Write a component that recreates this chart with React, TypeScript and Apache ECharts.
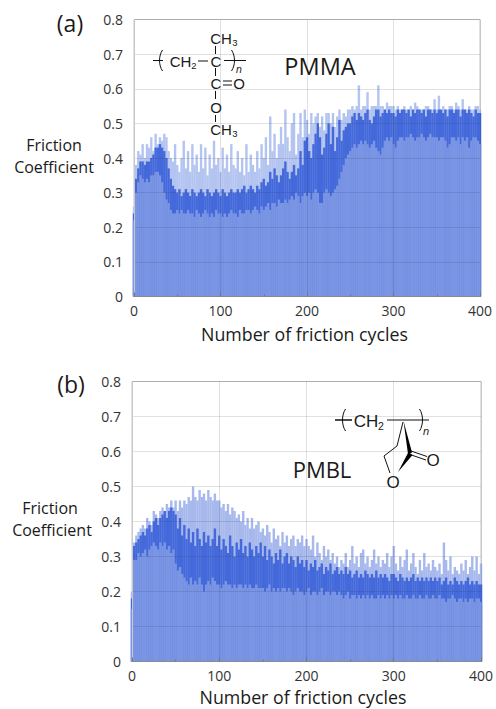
import React, { useEffect, useRef } from "react";
import * as echarts from "echarts";

const cycleStep = 2.5;
const xTicks = [0, 100, 200, 300, 400];
const yTickStep = 0.1;

// friction coefficient x 100, one value every 2.5 cycles
const pmmaLow = [
  22,30,33,35,34,33,34,33,35,35,36,36,35,33,30,28,27,25,24,24,
  25,24,25,24,24,25,24,24,23,25,24,23,24,25,24,23,24,23,25,24,
  24,23,24,23,24,25,24,24,23,25,24,24,25,25,24,25,26,25,24,26,
  25,26,27,25,27,27,26,28,27,27,28,27,28,29,28,30,29,27,29,30,
  29,30,28,30,31,30,27,27,30,31,30,29,30,31,32,34,36,38,40,41,
  42,43,44,43,44,45,44,45,44,43,44,45,43,42,41,43,45,46,45,46,
  44,43,45,46,46,45,46,46,47,46,45,46,46,47,46,45,46,47,46,46,
  46,45,46,46,45,43,44,46,46,45,46,44,46,45,46,43,45,46,46,45,
  44,
];
const pmmaHigh = [
  24,34,37,39,39,38,39,39,40,41,43,43,44,43,42,40,37,34,32,31,
  30,31,29,30,31,30,29,31,30,29,30,31,30,29,31,30,29,30,31,30,
  29,31,30,29,30,31,30,30,31,30,31,32,30,31,32,31,30,32,31,33,
  34,32,33,36,34,37,35,33,35,37,39,36,34,36,38,35,37,42,38,45,
  46,42,40,44,47,50,46,41,43,47,50,44,49,42,46,51,45,48,49,50,
  50,52,53,51,53,52,51,53,54,51,50,52,54,54,52,53,54,53,54,53,
  53,52,54,53,54,54,53,54,52,54,53,54,54,53,54,52,54,54,53,54,
  53,54,54,53,54,52,54,54,53,54,54,52,54,54,53,54,53,52,54,53,
  53,
];
const pmmaPeak = [
  26,38,42,41,44,40,44,43,46,42,47,44,46,45,47,46,42,40,39,44,
  38,36,40,45,37,42,36,44,38,41,36,44,37,43,35,41,37,45,38,40,
  36,43,37,41,36,44,38,37,42,36,40,35,44,36,41,38,36,42,37,44,
  40,46,38,52,42,47,40,44,49,44,54,46,42,50,53,41,47,53,46,54,
  51,47,53,50,52,53,49,52,48,53,53,50,53,49,52,54,51,53,52,54,
  54,55,54,55,61,54,55,55,59,54,55,55,55,61,55,55,54,56,55,55,
  55,54,55,54,54,55,54,54,55,54,56,55,54,54,54,55,55,54,54,57,
  54,58,54,55,54,54,55,55,54,56,55,54,57,54,54,55,54,54,55,55,
  54,
];
const pmblLow = [
  15,29,29,31,30,31,32,30,32,33,34,33,32,34,33,34,32,33,31,32,
  28,26,27,25,24,23,22,24,22,23,22,24,22,20,22,23,22,24,23,22,
  22,21,22,23,22,22,21,22,21,22,22,21,22,21,22,21,21,22,21,21,
  21,20,21,22,20,21,20,21,20,21,21,20,21,20,19,20,21,20,20,19,
  20,21,19,20,20,19,20,21,19,20,20,19,20,20,19,20,19,18,19,20,
  18,19,19,18,19,18,19,18,19,18,19,18,18,19,18,19,18,19,18,19,
  18,19,18,19,18,18,19,18,18,19,18,18,19,18,18,19,18,18,19,18,
  18,19,18,18,17,18,18,19,18,17,18,18,17,18,17,18,18,17,18,18,
  17,
];
const pmblHigh = [
  18,33,34,35,36,37,36,38,39,37,40,41,39,41,42,43,41,43,44,43,
  42,38,41,36,39,35,38,34,37,33,38,35,33,37,34,36,33,35,38,33,
  36,32,35,33,31,36,33,30,34,32,35,31,33,30,34,32,30,33,31,34,
  30,33,29,32,30,28,31,29,32,28,30,31,28,30,29,27,30,28,29,27,
  29,26,28,27,29,26,27,28,25,27,26,28,25,26,27,25,26,25,27,25,
  26,24,25,26,24,25,24,26,25,24,25,24,26,24,25,24,25,24,23,25,
  25,24,23,25,24,23,24,23,24,25,23,24,23,24,23,24,23,24,23,24,
  23,24,22,23,24,22,23,22,24,23,22,23,22,23,24,22,23,22,23,22,
  22,
];
const pmblPeak = [
  20,34,36,37,38,39,38,41,40,39,43,42,41,43,44,43,45,44,46,44,
  46,43,46,44,46,45,47,46,50,47,46,49,47,48,46,49,47,46,48,46,
  46,44,45,43,45,42,44,43,41,42,40,43,39,41,38,41,38,39,40,37,
  38,36,39,37,34,38,35,36,33,37,34,36,33,35,36,33,35,34,36,33,
  35,33,32,36,30,34,31,29,33,30,32,29,31,28,30,27,29,28,31,27,
  29,33,28,30,27,31,32,28,30,27,29,32,28,30,27,29,28,31,27,30,
  33,28,26,30,27,29,32,26,28,31,27,25,29,26,31,27,28,26,29,27,
  26,28,25,34,29,26,30,25,27,26,25,28,26,29,25,27,30,26,30,25,
  28,
];

const toPoints = (v: number[]) => v.map((y, i) => [i * cycleStep, y / 100]);

const uiFont = "Open Sans";
const chemFont = "Liberation Sans";
const xTitle = "Number of friction cycles";

const txt = (text: string, x: number, y: number, size: number, font = uiFont, extra: any = {}) => ({
  type: "text",
  x,
  y,
  silent: true,
  z: 20,
  style: { text, fontSize: size, fontFamily: font, fill: "#1a1a1a", align: "center", verticalAlign: "middle", ...extra },
});
const seg = (x1: number, y1: number, x2: number, y2: number, w = 1) => ({
  type: "line",
  silent: true,
  z: 20,
  shape: { x1, y1, x2, y2 },
  style: { stroke: "#111", lineWidth: w },
});
const bracket = (x: number, top: number, bottom: number, dir: number) => ({
  type: "bezierCurve",
  silent: true,
  z: 20,
  shape: {
    x1: x + 1.5 * dir, y1: top,
    x2: x + 1.5 * dir, y2: bottom,
    cpx1: x - 2.5 * dir, cpy1: top + 6,
    cpx2: x - 2.5 * dir, cpy2: bottom - 6,
  },
  style: { stroke: "#111", lineWidth: 1, fill: "none" },
});
const solid = (points: number[][]) => ({
  type: "polygon",
  silent: true,
  z: 20,
  shape: { points },
  style: { fill: "#000" },
});

const pmmaGraphic = [
  txt("(a)", 70, 23, 23),
  txt("Friction", 54, 145, 16),
  txt("Coefficient", 54, 167, 16),
  txt("PMMA", 320, 66, 23.5),
  txt(xTitle, 304.5, 334, 17.8),
  seg(153, 60.5, 163, 60.5),
  bracket(161, 50, 71, 1),
  txt("CH", 180.5, 61, 15, chemFont),
  txt("2", 194, 65, 9.5, chemFont),
  seg(198, 61, 208, 61),
  txt("C", 216, 61, 15, chemFont),
  seg(224, 60.5, 246, 60.5),
  bracket(233, 50, 71, -1),
  txt("n", 239, 69, 10.5, chemFont, { fontStyle: "italic" }),
  txt("CH", 221, 38, 15, chemFont),
  txt("3", 235, 42, 9.5, chemFont),
  seg(215.5, 46, 215.5, 54),
  seg(215.5, 68, 215.5, 76),
  txt("C", 216, 83, 15, chemFont),
  seg(223, 81, 232, 81),
  seg(223, 85, 232, 85),
  txt("O", 239, 83, 15, chemFont),
  seg(215.5, 91, 215.5, 99),
  txt("O", 216, 107, 15, chemFont),
  seg(215.5, 115, 215.5, 122),
  txt("CH", 221, 129, 15, chemFont),
  txt("3", 235, 133, 9.5, chemFont),
];

const pmblGraphic = [
  txt("(b)", 71, 384, 23),
  txt("Friction", 50, 508, 16),
  txt("Coefficient", 52, 530, 16),
  txt("PMBL", 322, 469, 22),
  txt(xTitle, 303, 697, 17.8),
  seg(335, 420, 352, 420, 1.5),
  bracket(344, 409, 431, 1),
  txt("CH", 366, 421, 17, chemFont),
  txt("2", 381, 426, 10.5, chemFont),
  seg(387, 420, 429, 420),
  bracket(421, 409, 431, -1),
  txt("n", 426, 431, 11, chemFont, { fontStyle: "italic" }),
  seg(403, 422, 397, 446),
  seg(397, 446, 384, 456),
  seg(384, 456, 390, 473),
  solid([[403.5, 421], [408, 454], [412, 452.5]]),
  solid([[408.5, 452], [412.5, 455], [398, 472]]),
  seg(411, 451, 427, 456.5),
  seg(410, 454.5, 426, 460),
  txt("O", 433, 460, 17, chemFont),
  txt("O", 393, 482, 17, chemFont),
];

const BAND = "#4469da";
const BASE = "#7a95e3";

function panel(index: number, low: number[], high: number[], peak: number[], peakColor: string) {
  const layer = (data: number[], color: string, name: string) => ({
    type: "bar",
    name,
    xAxisIndex: index,
    yAxisIndex: index,
    data: toPoints(data),
    barWidth: 2.4,
    barGap: "-100%",
    itemStyle: { color },
    silent: true,
  });
  return [layer(peak, peakColor, "peak"), layer(high, BAND, "high"), layer(low, BASE, "low")];
}

const xAxisOf = (gridIndex: number) => ({
  type: "value",
  gridIndex,
  min: xTicks[0],
  max: xTicks[xTicks.length - 1],
  interval: xTicks[1] - xTicks[0],
  z: 5,
  axisLine: { show: true, lineStyle: { color: "#8a8a8a", width: 1 } },
  axisTick: { show: true, inside: true, length: 4, lineStyle: { color: "#777" } },
  minorTick: { show: true, splitNumber: 2, length: 2, lineStyle: { color: "#777" } },
  axisLabel: { fontFamily: uiFont, fontSize: 14, color: "#333", margin: 7 },
  splitLine: { show: true, lineStyle: { color: "rgba(40,40,60,0.14)", width: 1 } },
});
const yAxisOf = (gridIndex: number) => ({
  type: "value",
  gridIndex,
  min: 0,
  max: 0.8,
  interval: yTickStep,
  z: 5,
  axisLine: { show: true, lineStyle: { color: "#c8c8c8", width: 1 } },
  axisTick: { show: false },
  axisLabel: { fontFamily: uiFont, fontSize: 14, color: "#333", margin: 11 },
  splitLine: { show: true, lineStyle: { color: "rgba(40,40,60,0.14)", width: 1 } },
});

export default function App() {
  const ref = useRef<HTMLDivElement>(null);
  useEffect(() => {
    document.body.style.margin = "0";
    const chart = echarts.init(ref.current!, undefined, { renderer: "svg" });
    chart.setOption({
      animation: false,
      backgroundColor: "#fff",
      grid: [
        { left: 134, top: 19.5, width: 346, height: 277, show: true, borderColor: "#c4c4c4", borderWidth: 1 },
        { left: 132, top: 381.5, width: 349, height: 280, show: true, borderColor: "#c4c4c4", borderWidth: 1 },
      ],
      xAxis: [xAxisOf(0), xAxisOf(1)],
      yAxis: [yAxisOf(0), yAxisOf(1)],
      series: [
        ...panel(0, pmmaLow, pmmaHigh, pmmaPeak, "#b4c4f0"),
        ...panel(1, pmblLow, pmblHigh, pmblPeak, "#a6b8ec"),
      ],
      graphic: { elements: [...pmmaGraphic, ...pmblGraphic] },
    });
    return () => chart.dispose();
  }, []);
  return <div ref={ref} style={{ width: 496, height: 709 }} />;
}
